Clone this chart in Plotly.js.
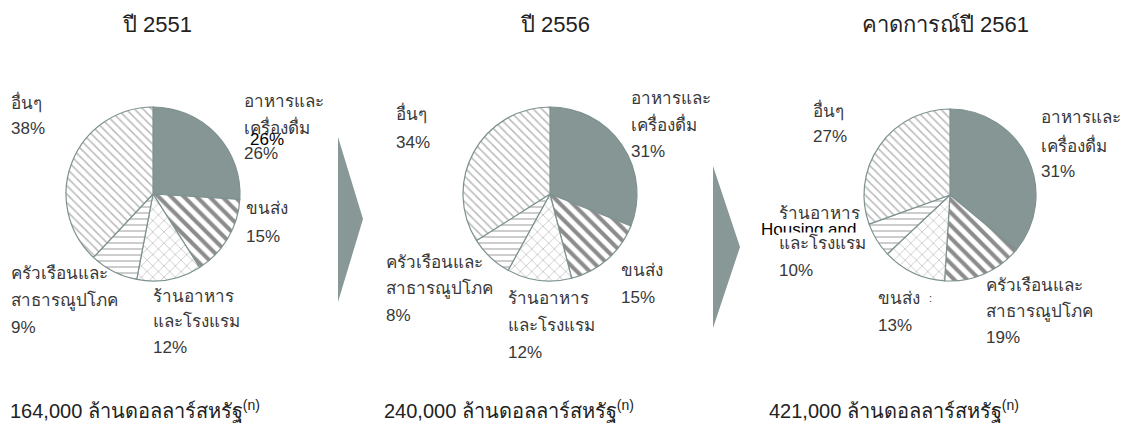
<!DOCTYPE html>
<html>
<head>
<meta charset="utf-8">
<script src="https://cdn.plot.ly/plotly-3.0.1.min.js"></script>
<style>html,body{margin:0;padding:0;background:#fff;}#chart{width:1122px;height:431px;}</style>
</head>
<body>
<div id="chart"></div>
<script>
// ---- data ----
const sectors = ["อาหารและเครื่องดื่ม", "ขนส่ง", "ร้านอาหารและโรงแรม", "ครัวเรือนและสาธารณูปโภค", "อื่นๆ"];
const years = ["ปี 2551", "ปี 2556", "คาดการณ์ปี 2561"];
const share2551 = [26, 15, 12, 9, 38];
const share2556 = [31, 15, 12, 8, 34];
const share2561 = [36, 15, 12, 6.5, 30.5];   // slice sizes as drawn
const totals = ["164,000", "240,000", "421,000"];
const labelPct2551 = ["26%", "15%", "12%", "9%", "38%"];
const labelPct2556 = ["31%", "15%", "12%", "8%", "34%"];
const labelPct2561 = ["31%", "13%", "10%", "19%", "27%"];

const W = 1122, H = 431;
const px = x => x / W;
const py = y => 1 - y / H;

const teal = "#869695";
const lineCol = "#7d9290";
const textCol = "#383838";
const FONT = "Liberation Sans, Arial, sans-serif";

function pieTrace(values, cx, cy, r) {
  return {
    type: "pie",
    values: values,
    labels: sectors,
    sort: false,
    direction: "clockwise",
    rotation: 0,
    textinfo: "none",
    hoverinfo: "skip",
    showlegend: false,
    domain: {x: [px(cx - r), px(cx + r)], y: [py(cy + r), py(cy - r)]},
    marker: {
      colors: [teal, "#ffffff", "#ffffff", "#ffffff", "#ffffff"],
      line: {color: lineCol, width: 1.2},
      pattern: {
        shape: ["", "\\", "x", "-", "\\"],
        fgcolor: [teal, "#8c8c8c", "#b3b3b3", "#bdbdbd", "#b8b8b8"],
        bgcolor: [teal, "#ffffff", "#ffffff", "#ffffff", "#ffffff"],
        size: [8, 9, 8, 6, 6],
        solidity: [0.5, 0.45, 0.15, 0.25, 0.25],
        fillmode: "replace"
      }
    }
  };
}

const data = [
  pieTrace(share2551, 153, 194, 87),
  pieTrace(share2556, 550, 194, 87),
  pieTrace(share2561, 950, 195, 86)
];

const ann = [];
function txt(t, x, y, opts) {
  opts = opts || {};
  ann.push({
    text: t, x: px(x), y: py(y), xref: "paper", yref: "paper",
    xanchor: opts.xanchor || "left", yanchor: "middle", showarrow: false,
    font: {family: FONT, size: opts.size || 17, color: opts.color || textCol},
    bgcolor: opts.bg || "rgba(0,0,0,0)",
    borderpad: 0
  });
}

// titles
txt(years[0], 157, 24, {xanchor: "center", size: 22, color: "#222"});
txt(years[1], 555, 24, {xanchor: "center", size: 22, color: "#222"});
txt(years[2], 945, 24, {xanchor: "center", size: 22, color: "#222"});

// pie 1 labels
txt("อาหารและ", 243, 101);
txt("เครื่องดื่ม", 243, 127);
txt(labelPct2551[0], 243, 153);
txt(labelPct2551[0], 249, 140, {color: "#000", size: 17});
txt("ขนส่ง", 245, 209);
txt(labelPct2551[1], 245, 236);
txt("ร้านอาหาร", 152, 296);
txt("และโรงแรม", 152, 321);
txt(labelPct2551[2], 152, 347);
txt("ครัวเรือนและ", 10, 273);
txt("สาธารณูปโภค", 10, 300);
txt(labelPct2551[3], 10, 327);
txt("อื่นๆ", 10, 102);
txt(labelPct2551[4], 10, 129);

// pie 2 labels
txt("อาหารและ", 630, 98);
txt("เครื่องดื่ม", 630, 124);
txt(labelPct2556[0], 630, 151);
txt("ขนส่ง", 620, 270);
txt(labelPct2556[1], 620, 297);
txt("ร้านอาหาร", 507, 298);
txt("และโรงแรม", 507, 325);
txt(labelPct2556[2], 507, 352);
txt("ครัวเรือนและ", 385, 262);
txt("สาธารณูปโภค", 385, 288);
txt(labelPct2556[3], 385, 315);
txt("อื่นๆ", 395, 113);
txt(labelPct2556[4], 395, 142);

// pie 3 labels
txt("อาหารและ", 1040, 118);
txt("เครื่องดื่ม", 1040, 145);
txt(labelPct2561[0], 1040, 172);
txt("ขนส่ง", 877, 298);
txt(":", 928, 298, {size: 11});
txt(labelPct2561[1], 877, 325);
txt("ร้านอาหาร", 778, 214);
txt("Housing and", 760, 229, {color: "#000"});
txt("และโรงแรม", 778, 243, {bg: "#ffffff"});
txt(labelPct2561[2], 778, 270);
txt("ครัวเรือนและ", 985, 285);
txt("สาธารณูปโภค", 985, 311);
txt(labelPct2561[3], 985, 337);
txt("อื่นๆ", 812, 110);
txt(labelPct2561[4], 812, 136);

// totals
const unit = " ล้านดอลลาร์สหรัฐ<sup>(n)</sup>";
txt(totals[0] + unit, 9, 410, {size: 20, color: "#222"});
txt(totals[1] + unit, 383, 410, {size: 20, color: "#222"});
txt(totals[2] + unit, 768, 410, {size: 20, color: "#222"});

function arrowPath(x0, yTop, xTip, yMid, yBot) {
  return "M " + px(x0) + "," + py(yTop) + " L " + px(xTip) + "," + py(yMid) +
         " L " + px(x0) + "," + py(yBot) + " Z";
}

const layout = {
  width: W, height: H,
  margin: {l: 0, r: 0, t: 0, b: 0},
  paper_bgcolor: "#ffffff",
  plot_bgcolor: "#ffffff",
  showlegend: false,
  annotations: ann,
  shapes: [
    {type: "path", xref: "paper", yref: "paper", path: arrowPath(338, 137, 363, 219, 302), fillcolor: "#879897", line: {width: 0}},
    {type: "path", xref: "paper", yref: "paper", path: arrowPath(713, 166, 740, 247, 328), fillcolor: "#879897", line: {width: 0}}
  ]
};

Plotly.newPlot("chart", data, layout, {displayModeBar: false, staticPlot: true});
</script>
</body>
</html>
